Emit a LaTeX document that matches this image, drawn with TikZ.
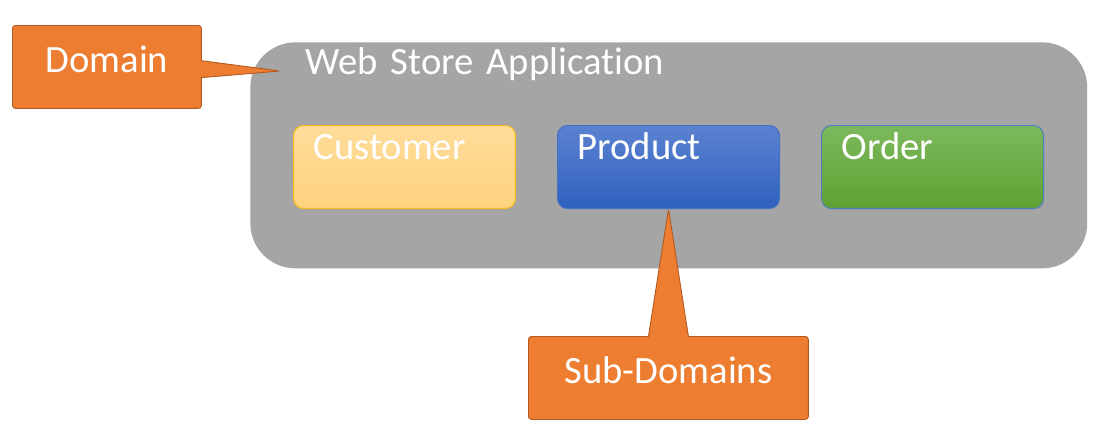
\documentclass[tikz,border=0pt]{standalone}
\usepackage{fontspec}
\setmainfont{Carlito}[Ligatures=NoCommon]
\usetikzlibrary{positioning,shapes.callouts,shadows}
\definecolor{storegray}{HTML}{A5A5A5}
\definecolor{noteorange}{HTML}{ED7D31}
\definecolor{noteline}{HTML}{B3591F}

\begin{document}
\begin{tikzpicture}[
  x=0.02cm, y=-0.02cm,
  every node/.style={font=\fontsize{22pt}{26pt}\selectfont, text=white},
  subdomain/.style={draw, line width=0.6pt, rounded corners=0.2cm, anchor=north west,
    inner xsep=0.4cm, inner ysep=0pt, text width=3.64cm, align=left,
    text height=0.68cm, text depth=0.98cm},
  note/.style={rectangle callout, draw=noteline, fill=noteorange, line width=0.5pt,
    rounded corners=0.06cm, anchor=north west, inner sep=0pt,
    text height=0.94cm, text depth=0.72cm, align=center}
]
\useasboundingbox (0,0) rectangle (1104,441);
\node[fill=storegray, rounded corners=0.9cm, anchor=north west, inner xsep=1.1cm, inner ysep=0pt,
  text width=14.54cm, align=left, text height=0.64cm, text depth=3.88cm] (store) at (250,42)
  {Web Store Application};
\node[subdomain, draw={rgb,255:red,246;green,186;blue,30}, top color={rgb,255:red,255;green,220;blue,154}, bottom color={rgb,255:red,255;green,211;blue,127}] (customer) at (293,125) {Customer};
\node[subdomain, right=0.82cm of customer, draw={rgb,255:red,68;green,114;blue,196}, top color={rgb,255:red,91;green,130;blue,208}, bottom color={rgb,255:red,47;green,97;blue,190}] (product) {Product};
\node[subdomain, right=0.82cm of product, draw={rgb,255:red,79;green,129;blue,189},
  top color={rgb,255:red,125;green,185;blue,93}, bottom color={rgb,255:red,94;green,161;blue,50},
  drop shadow={opacity=0.35, shadow xshift=0.4pt, shadow yshift=-0.6pt}] (order) {Order};
\coordinate (domaintip) at (280,71);
\node[note, minimum width=3.78cm, callout absolute pointer=(domaintip), callout pointer width=0.34cm] (domain) at (12,25) {Domain};
\node[note, minimum width=5.6cm, callout absolute pointer=(product.south), callout pointer width=0.8cm] (subdomains) at (528,336) {Sub-Domains};
\end{tikzpicture}
\end{document}
